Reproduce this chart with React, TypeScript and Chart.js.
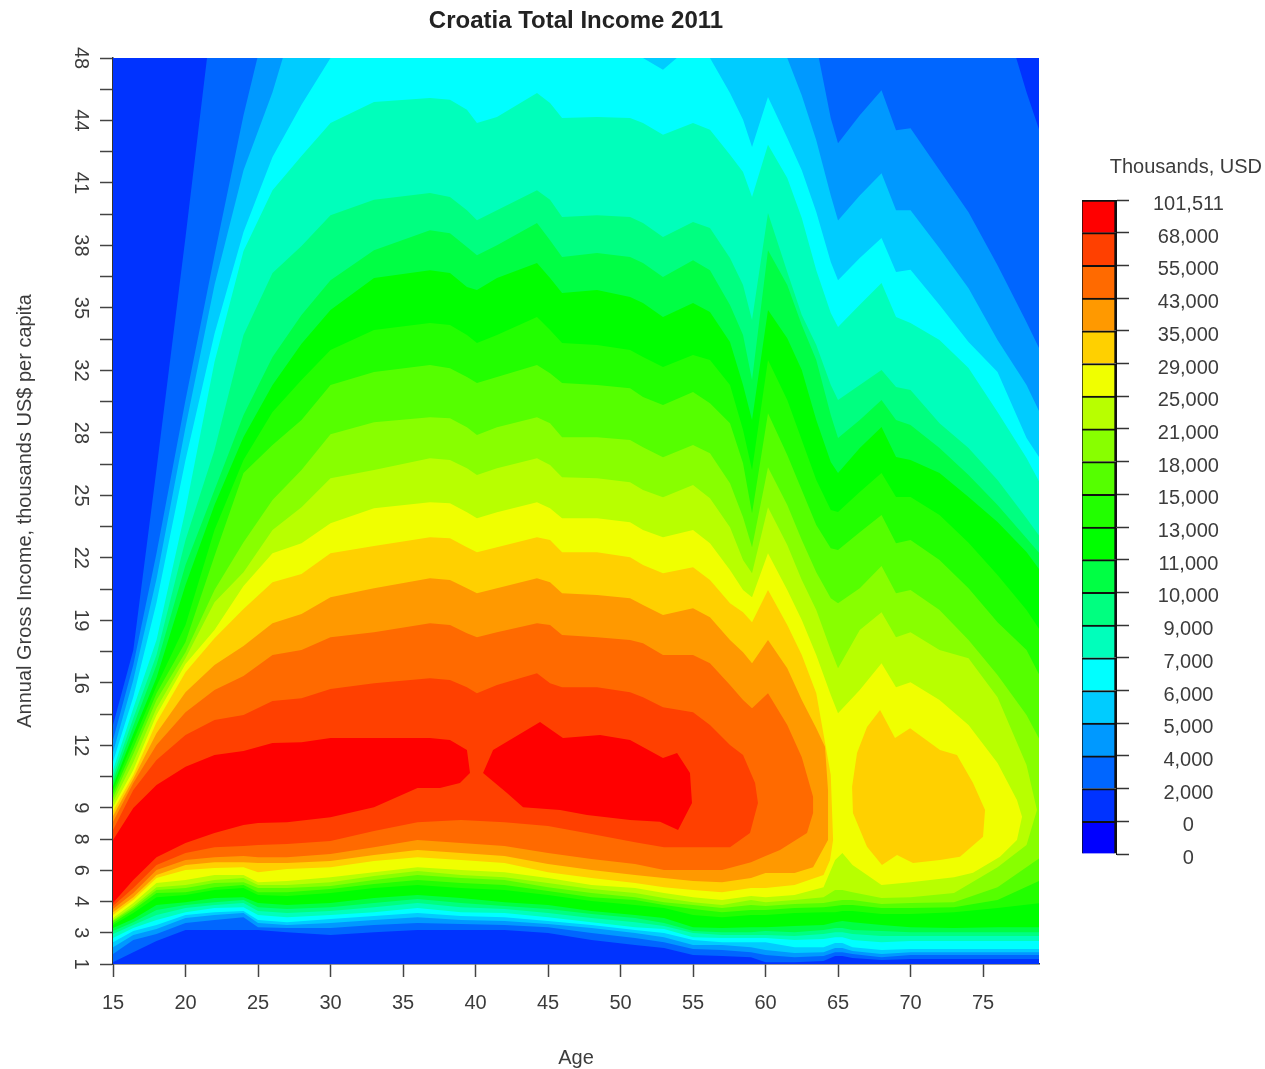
import React, { useEffect, useRef } from "react";
import { Chart, registerables } from "chart.js";

Chart.register(...registerables);

const FONT = "'Liberation Sans', Arial, sans-serif";
const INK = "#3c3c3c";

// Income axis: evenly spaced brackets, labels
const incomeTickLabels = ["1","3","4","6","8","9","","12","","16","","19","","22","","25","","28","","32","","35","","38","","41","","44","","48"];

// Colour key
const keyLabels = ["0","0","2,000","4,000","5,000","6,000","7,000","9,000","10,000","11,000","13,000","15,000","18,000","21,000","25,000","29,000","35,000","43,000","55,000","68,000","101,511"];
const keyColours = ["#0000ff","#0033ff","#0066ff","#0099ff","#00ccff","#00ffff","#00ffbb","#00ff80","#00ff44","#00ff00","#22ff00","#55ff00","#88ff00","#b8ff00","#f0ff00","#ffd000","#ff9900","#ff6a00","#ff4000","#ff0000"];
const keySpans = [1,1,1,1,1,1,1,1,1,1,1,1,1,1,1,1,1,1,1,1];

// Ages at which contour edges were read
const topAges = [15,16.4,18,20,22,24,26,28,30,33,36.86,38.24,39.41,40.1,41.48,44.24,45.14,45.97,48.38,50.66,51.55,52.93,55,56.17,57.55,58.45,59.07,60.17,61.5,62.5,63.5,64.5,65,66.5,68,69,70,72,74,76,78,79];
const lowAges = [15,16.4,18,20,22,24,25,27,30,33,36,39,42,45,48,51,53,55,57,59,60,62,64,64.8,65.3,66,68,70,73,76,79];

// Backdrop band
const baseAges = [15,79,79,15];
const baseVals = [0,0,29,29];

// Level 2,000
const l1Ages = [15,16.4,18,20,22,76,78,79];
const l1Top = [7.65,10.05,15.84,23.26,31,31,27.9,26.53];
const l1Low = [0.06,0.38,0.74,1.09,1.09,1.09,1.09,1.02,0.93,1.02,1.09,1.09,1.09,0.99,0.77,0.61,0.51,0.29,0.26,0.22,0.06,0.06,0.1,0.26,0.26,0.19,0.13,0.16,0.16,0.16,0.16];
// Level 4,000
const l2Ages = [15,16.4,18,20,22,24,26,62.5,63.5,64.5,65,66.5,68,69,70,72,74,76,78,79];
const l2Top = [7.17,9.57,13.15,18.05,22.69,27.17,31,31,29.41,27.07,26.27,27.17,27.97,26.69,26.75,25.41,24.06,22.37,20.54,19.58];
const l2Low = [0.32,0.77,0.96,1.31,1.41,1.5,1.18,1.15,1.15,1.25,1.31,1.28,1.25,1.18,0.99,0.83,0.7,0.48,0.45,0.38,0.29,0.22,0.26,0.38,0.38,0.32,0.22,0.29,0.29,0.29,0.29];
// Level 5,000
const l3Ages = [15,16.4,18,20,22,24,26,28,60.17,61.5,62.5,63.5,64.5,65,66.5,68,69,70,72,74,76,78,79];
const l3Top = [6.78,9.09,12.32,17.18,21.73,25.41,27.9,31,31,29,27.8,26.37,24.6,23.8,24.6,25.31,24.13,24.13,22.91,21.63,19.97,18.53,17.57];
const l3Low = [0.54,0.93,1.12,1.47,1.57,1.63,1.31,1.25,1.31,1.41,1.5,1.41,1.38,1.28,1.15,0.99,0.86,0.61,0.61,0.54,0.45,0.35,0.38,0.51,0.51,0.42,0.32,0.38,0.38,0.38,0.38];
// Level 6,000
const l4Ages = [15,16.4,18,20,22,24,26,28,30,33,50.66,51.55,52.93,55,56.17,57.55,58.45,59.07,60.17,61.5,62.5,63.5,64.5,65,66.5,68,69,70,72,74,76,78,79];
const l4Top = [6.47,8.55,11.56,16.13,20.17,23.43,25.83,27.5,29,31,31,29,28.62,29.45,29,27.88,27.02,26.15,27.75,26.44,25.41,24.07,22.47,21.89,22.6,23.24,22.15,22.22,21.09,19.91,18.95,16.84,16.13];
const l4Low = [0.7,1.06,1.25,1.57,1.66,1.7,1.41,1.34,1.44,1.54,1.63,1.54,1.5,1.38,1.25,1.09,0.99,0.77,0.7,0.7,0.7,0.54,0.54,0.67,0.67,0.54,0.45,0.48,0.48,0.48,0.48];
// Level 7,000
const l5Top = [6.21,8.19,10.37,14.53,19.27,22.82,24.77,25.86,26.92,27.59,27.72,27.66,27.34,26.92,27.11,27.88,27.56,27.08,27.11,27.08,26.92,26.54,26.92,26.7,25.9,25.35,24.55,26.22,25.16,23.88,22.21,20.84,20.39,21.1,21.8,20.71,20.52,19.97,19.08,17.67,16.2,15.33];
const l5Low = [0.83,1.15,1.41,1.66,1.79,1.82,1.57,1.5,1.57,1.66,1.79,1.66,1.63,1.5,1.34,1.18,1.12,0.86,0.83,0.83,0.83,0.77,0.8,0.86,0.86,0.77,0.7,0.74,0.74,0.74,0.74];
// Level 9,000
const l6Top = [6.02,7.87,9.89,13.57,16.45,20.13,22.12,22.98,23.97,24.46,24.68,24.55,24.13,23.81,24.13,24.77,24.46,23.91,23.97,23.91,23.72,23.27,23.75,23.56,22.6,21.73,20.61,24.04,22.15,20.77,19.81,18.53,18.05,18.53,19.01,18.47,18.37,17.31,16.52,15.49,14.27,13.63];
const l6Low = [0.96,1.25,1.57,1.79,1.89,1.95,1.7,1.63,1.7,1.82,1.95,1.82,1.76,1.63,1.47,1.34,1.22,0.99,0.93,0.93,0.93,0.9,0.96,1.02,1.02,0.96,0.9,0.9,0.9,0.9,0.9];
// Level 10,000
const l7Top = [5.86,7.62,9.57,12.77,15.17,17.57,19.43,20.77,21.89,22.85,23.49,23.39,22.95,22.69,23.01,23.72,23.17,22.63,22.76,22.63,22.44,21.99,22.53,22.21,21.09,20.13,18.69,22.85,21.73,20.45,19.33,17.57,16.84,17.41,18.05,17.41,17.25,16.52,15.65,14.69,13.63,13.09];
const l7Low = [1.06,1.34,1.73,1.89,1.98,2.05,1.82,1.76,1.82,1.95,2.08,1.95,1.86,1.76,1.6,1.47,1.31,1.06,1.02,1.02,1.06,1.02,1.09,1.15,1.15,1.09,1.06,1.02,1.02,1.02,1.02];
// Level 11,000
const l8Top = [5.7,7.36,9.16,12.13,14.69,16.87,18.53,19.85,20.93,21.96,22.21,22.12,21.67,21.57,21.96,22.44,21.96,21.48,21.57,21.35,21.16,20.71,21.16,20.87,19.91,18.53,17.41,20.93,20.03,19.01,17.41,16.07,15.72,16.52,17.19,16.23,16.13,15.72,14.95,14.15,13.19,12.55];
const l8Low = [1.15,1.44,1.89,1.98,2.11,2.14,1.95,1.89,1.95,2.11,2.21,2.11,1.98,1.89,1.7,1.57,1.47,1.18,1.15,1.18,1.18,1.22,1.25,1.34,1.38,1.34,1.25,1.18,1.15,1.18,1.18];
// Level 13,000
const l9Top = [5.57,7.14,8.9,10.85,13.89,16.13,17.67,18.69,19.65,20.29,20.52,20.45,20.13,19.88,20.13,20.71,20.29,19.88,19.81,19.65,19.43,19.11,19.49,19.33,18.53,17.09,15.81,19.33,18.05,16.77,15.49,14.53,14.47,15.11,15.72,14.95,14.95,14.37,13.48,12.45,11.33,10.63];
const l9Low = [1.25,1.63,2.14,2.21,2.37,2.43,2.21,2.18,2.27,2.43,2.53,2.43,2.37,2.21,2.02,1.89,1.79,1.57,1.5,1.57,1.57,1.63,1.66,1.66,1.7,1.7,1.6,1.6,1.66,1.79,1.95];
// Level 15,000
const l10Top = [5.44,6.91,8.67,10.31,13.06,15.72,16.61,17.41,18.53,18.95,19.17,19.07,18.79,18.6,18.79,19.17,18.91,18.6,18.53,18.43,18.15,17.89,18.31,17.95,17.31,16.03,14.43,17.63,16.29,15.17,14.05,13.31,13.25,13.82,14.37,13.47,13.57,12.93,12.03,10.94,10.05,9.15];
const l10Low = [1.31,1.73,2.27,2.3,2.46,2.53,2.3,2.3,2.4,2.56,2.69,2.59,2.53,2.34,2.14,2.05,1.89,1.76,1.66,1.73,1.73,1.79,1.82,1.86,1.89,1.89,1.79,1.79,1.82,2.05,2.69];
// Level 18,000
const l11Top = [5.31,6.72,8.45,9.98,11.97,13.5,14.85,15.81,16.96,17.34,17.5,17.47,17.18,16.93,17.18,17.5,17.31,16.86,16.86,16.77,16.54,16.22,16.61,16.35,15.39,14.3,13.34,15.9,14.69,13.57,12.54,11.71,11.55,12.03,12.74,11.87,11.97,11.33,10.37,9.25,7.97,7.1];
const l11Low = [1.38,1.79,2.37,2.43,2.59,2.62,2.43,2.43,2.5,2.69,2.85,2.75,2.69,2.46,2.27,2.14,1.98,1.89,1.79,1.89,1.86,1.92,1.95,2.02,2.05,2.05,1.92,1.95,1.98,2.46,3.42];
// Level 21,000
const l12Top = [5.18,6.46,8.19,9.79,11.58,12.54,13.89,14.62,15.55,15.81,16.19,16.13,15.87,15.65,15.87,16.19,15.97,15.58,15.55,15.42,15.17,14.94,15.33,14.91,13.98,12.93,12.51,14.62,13.41,12.29,11.33,10.05,9.47,10.69,11.26,10.46,10.62,10.05,9.79,8.54,6.37];
const l12Low = [1.41,1.86,2.46,2.53,2.69,2.75,2.53,2.53,2.62,2.82,2.98,2.85,2.78,2.59,2.4,2.27,2.11,1.98,1.89,2.05,1.98,2.05,2.14,2.37,2.37,2.3,2.11,2.14,2.27,3.1];
const l12CloseAges = [78.72,78];
const l12CloseVals = [4.93,3.81];
// Level 25,000
const l13Top = [5.02,6.21,7.97,9.6,10.69,12.1,13.15,13.47,14.11,14.59,14.78,14.75,14.46,14.27,14.46,14.78,14.59,14.27,14.27,14.14,13.89,13.66,13.89,13.47,12.61,11.97,11.74,13.15,11.97,11.01,9.89,8.61,8.03,8.77,9.63,8.86,9.02,8.45,7.65,6.43];
const l13Low = [1.47,1.95,2.59,2.69,2.85,2.85,2.62,2.66,2.78,2.94,3.1,3.01,2.94,2.75,2.53,2.43,2.27,2.14,2.05,2.18,2.14,2.21,2.46,3.33,3.55,3.17,2.53,2.62,2.78];
const l13CloseAges = [77.34,77.69,77.34,76.17,74.31];
const l13CloseVals = [5.25,4.71,3.97,3.43,2.92];
// Level 29,000, working-age mass
const l14Top = [4.9,6.05,7.74,9.34,10.43,11.36,12.22,12.48,13.15,13.38,13.66,13.63,13.34,13.18,13.34,13.66,13.57,13.18,13.18,13.02,12.77,12.51,12.7,12.29,11.55,11.26,10.94,11.97,10.85,9.89,8.67,6.05];
const l14Low = [1.57,2.05,2.75,3.01,3.07,3.1,2.94,3.04,3.1,3.3,3.42,3.33,3.23,2.94,2.75,2.59,2.46,2.37,2.3,2.43,2.43,2.53,2.85];
const l14CloseAges = [64.66,64.45];
const l14CloseVals = [3.97,3.33];
// Level 29,000, pension-age island
const l14IslandAges = [65.97,66.31,67,67.9,68.93,69.97,72.03,73.2,74.31,75.14,75,73.41,72.03,70.17,69.07,68.03,67,66.03];
const l14IslandVals = [5.67,6.75,7.59,8.13,7.23,7.55,6.85,6.69,5.79,4.93,4.07,3.43,3.33,3.23,3.49,3.17,3.75,4.83];
// Level 35,000
const l15Top = [4.74,5.92,7.39,8.7,9.57,10.18,10.91,11.2,11.74,12.03,12.35,12.29,12.03,11.87,12.03,12.35,12.22,11.87,11.81,11.71,11.49,11.17,11.39,11.1,10.37,9.98,9.63,10.37,9.47,8.45,7.55];
const l15Low = [1.66,2.14,2.85,3.17,3.26,3.26,3.23,3.23,3.3,3.49,3.65,3.55,3.46,3.2,3.01,2.85,2.75,2.66,2.62,2.75,2.91,2.91];
const l15CloseAges = [64.1,64.31,64.31,63.28];
const l15CloseVals = [6.95,5.57,3.97,3.1];
// Level 43,000
const l16Top = [4.55,5.79,7.01,8.06,8.77,9.22,9.89,10.05,10.46,10.62,10.91,10.85,10.59,10.46,10.62,10.91,10.85,10.53,10.46,10.37,10.27,9.89,9.89,9.63,8.93,8.45,8.19,8.67,7.65,6.62];
const l16Low = [1.76,2.27,3.01,3.33,3.42,3.46,3.42,3.42,3.52,3.74,3.97,3.87,3.78,3.55,3.36,3.2,3.01,3.01,3.01,3.26,3.46];
const l16CloseAges = [63.28,63.28,62.86,61];
const l16CloseVals = [5.35,4.83,4.19,3.65];
// Level 55,000
const l17Top = [4.29,5.57,6.53,7.33,7.81,7.97,8.42,8.51,8.8,8.99,9.15,9.09,8.86,8.67,8.93,9.31,8.99,8.86,8.86,8.7,8.54,8.22,8.06,7.65,7.01,6.69];
const l17Low = [1.86,2.43,3.17,3.55,3.74,3.78,3.81,3.84,3.94,4.26,4.54,4.61,4.54,4.42,4.16,3.9,3.74,3.74,3.74];
const l17CloseAges = [59.28,59.48,58.93,57.55];
const l17CloseVals = [5.79,5.15,4.19,3.74];
// Level 68,000, younger island
const l18Top = [3.97,4.99,5.73,6.31,6.69,6.82,7.07,7.1,7.23,7.23,7.23,7.17,6.85];
const l18Low = [1.95,2.69,3.42,3.87,4.19,4.45,4.51,4.54,4.7,5.02,5.63];
const l18CloseAges = [39.62,38.93,37.55];
const l18CloseVals = [6.11,5.79,5.63];
// Level 68,000, older island
const l18IslandAges = [40.52,41.21,44.45,46.03,48.59,50.66,52.93,53.9,54.79,54.93,53.97,52.72,50.66,47.69,45.83,43.28,42.17];
const l18IslandVals = [6.11,6.85,7.75,7.23,7.33,7.17,6.59,6.75,6.11,5.15,4.29,4.55,4.61,4.77,4.93,5.02,5.47];

type Pt = { x: number; y: number };

const zip = (ages: number[], vals: number[]): Pt[] => vals.map((v, i) => ({ x: ages[i], y: v }));

const outline = (ages: number[], top: number[], low: number[] = [], closeAges: number[] = [], closeVals: number[] = []): Pt[] => [
  ...zip(ages, top),
  ...zip(closeAges, closeVals),
  ...zip(lowAges, low).reverse(),
];

const band = (colour: string, data: Pt[]) => ({
  data,
  backgroundColor: colour,
  borderWidth: 0,
  pointRadius: 0,
  pointHoverRadius: 0,
  tension: 0,
  fill: "shape" as const,
});

export default function App() {
  const plotRef = useRef<HTMLCanvasElement>(null);
  const keyRef = useRef<HTMLCanvasElement>(null);

  useEffect(() => {
    const c = keyColours;
    const plot = new Chart(plotRef.current as HTMLCanvasElement, {
      type: "line",
      data: {
        // the first dataset is painted last, so the highest level comes first
        datasets: [
          band(c[19], zip(l18IslandAges, l18IslandVals)),
          band(c[19], outline(topAges, l18Top, l18Low, l18CloseAges, l18CloseVals)),
          band(c[18], outline(topAges, l17Top, l17Low, l17CloseAges, l17CloseVals)),
          band(c[17], outline(topAges, l16Top, l16Low, l16CloseAges, l16CloseVals)),
          band(c[16], outline(topAges, l15Top, l15Low, l15CloseAges, l15CloseVals)),
          band(c[15], zip(l14IslandAges, l14IslandVals)),
          band(c[15], outline(topAges, l14Top, l14Low, l14CloseAges, l14CloseVals)),
          band(c[14], outline(topAges, l13Top, l13Low, l13CloseAges, l13CloseVals)),
          band(c[13], outline(topAges, l12Top, l12Low, l12CloseAges, l12CloseVals)),
          band(c[12], outline(topAges, l11Top, l11Low)),
          band(c[11], outline(topAges, l10Top, l10Low)),
          band(c[10], outline(topAges, l9Top, l9Low)),
          band(c[9], outline(topAges, l8Top, l8Low)),
          band(c[8], outline(topAges, l7Top, l7Low)),
          band(c[7], outline(topAges, l6Top, l6Low)),
          band(c[6], outline(topAges, l5Top, l5Low)),
          band(c[5], outline(l4Ages, l4Top, l4Low)),
          band(c[4], outline(l3Ages, l3Top, l3Low)),
          band(c[3], outline(l2Ages, l2Top, l2Low)),
          band(c[2], outline(l1Ages, l1Top, l1Low)),
          band(c[1], zip(baseAges, baseVals)),
        ],
      },
      options: {
        responsive: false,
        animation: false,
        devicePixelRatio: 1,
        events: [],
        layout: { padding: { left: 0, right: 226, top: 0, bottom: 0 } },
        plugins: {
          legend: { display: false },
          tooltip: { enabled: false },
          title: {
            display: true,
            text: "Croatia Total Income 2011",
            fullSize: false,
            color: "#222222",
            font: { family: FONT, size: 24, weight: "bold", lineHeight: 1.2 },
            padding: { top: 7, bottom: 22.2 },
          },
        },
        scales: {
          x: {
            type: "linear",
            min: 15,
            max: 78.86,
            afterFit: (s: any) => { s.height = 105; },
            border: { color: "#333333", width: 1.5 },
            grid: { drawOnChartArea: false, tickLength: 13, tickColor: "#444444", tickWidth: 1.5 },
            ticks: { stepSize: 5, includeBounds: false, maxRotation: 0, color: INK, padding: 14, font: { family: FONT, size: 20 } },
            title: { display: true, text: "Age", color: INK, font: { family: FONT, size: 20 }, padding: { top: 0, bottom: -1.5 } },
          },
          y: {
            type: "linear",
            min: 0,
            max: 29,
            afterFit: (s: any) => { s.width = 113; },
            border: { color: "#333333", width: 1.5 },
            grid: { drawOnChartArea: false, tickLength: 13, tickColor: "#444444", tickWidth: 1.5 },
            ticks: {
              stepSize: 1,
              autoSkip: false,
              includeBounds: false,
              minRotation: -90,
              maxRotation: -90,
              crossAlign: "center",
              padding: 8,
              color: INK,
              font: { family: FONT, size: 20 },
              callback: (v: any) => incomeTickLabels[Number(v)],
            },
            title: {
              display: true,
              text: "Annual Gross Income, thousands US$ per capita",
              color: INK,
              font: { family: FONT, size: 20 },
              padding: { top: 13, bottom: 0 },
            },
          },
        },
      } as any,
    });

    const key = new Chart(keyRef.current as HTMLCanvasElement, {
      type: "bar",
      data: {
        labels: ["key"],
        datasets: keyColours.map((colour, i) => ({
          data: [keySpans[i]],
          backgroundColor: colour,
          borderColor: "#101010",
          borderWidth: { top: 2, bottom: 0, left: 1, right: 2 },
          borderSkipped: false,
          barPercentage: 1,
          categoryPercentage: 1,
          stack: "key",
        })),
      },
      options: {
        responsive: false,
        animation: false,
        devicePixelRatio: 1,
        events: [],
        layout: { padding: { left: 12, right: 0, top: 0, bottom: 46 } },
        plugins: {
          legend: { display: false },
          tooltip: { enabled: false },
          title: {
            display: true,
            text: "Thousands, USD",
            align: "end",
            color: INK,
            font: { family: FONT, size: 20, weight: "normal", lineHeight: 1.2 },
            padding: { top: 155, bottom: 21 },
          },
        },
        scales: {
          x: { display: false, stacked: true },
          y: {
            position: "right",
            stacked: true,
            min: 0,
            max: 20,
            afterFit: (s: any) => { s.width = 146; },
            border: { color: "#101010", width: 1 },
            grid: { drawOnChartArea: false, tickLength: 13, tickColor: "#333333", tickWidth: 1.5 },
            ticks: {
              stepSize: 1,
              autoSkip: false,
              includeBounds: false,
              crossAlign: "center",
              padding: 24,
              labelOffset: 4.5,
              color: INK,
              font: { family: FONT, size: 20 },
              callback: (v: any) => keyLabels[Number(v)],
            },
          },
        },
      } as any,
    });

    return () => {
      plot.destroy();
      key.destroy();
    };
  }, []);

  return (
    <div style={{ position: "absolute", left: 0, top: 0, width: 1265, height: 1069, background: "#ffffff", overflow: "hidden" }}>
      <canvas ref={plotRef} width={1265} height={1069} style={{ position: "absolute", left: 0, top: 0 }} />
      <canvas ref={keyRef} width={192} height={900} style={{ position: "absolute", left: 1070, top: 0 }} />
    </div>
  );
}
